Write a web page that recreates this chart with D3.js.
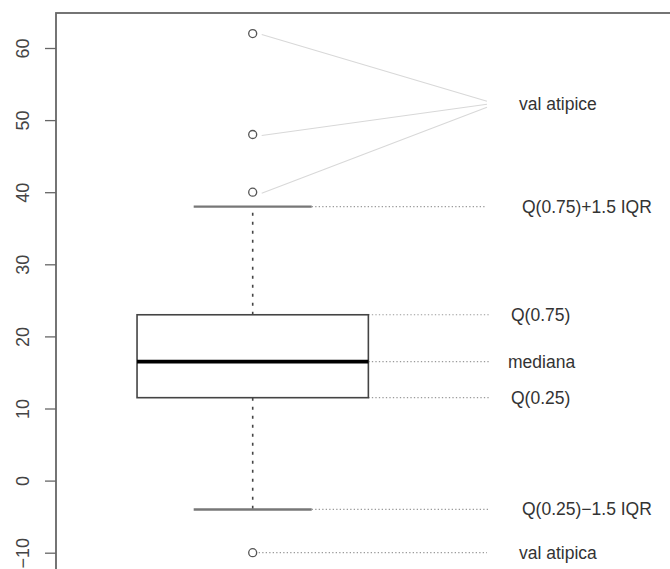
<!DOCTYPE html>
<html>
<head>
<meta charset="utf-8">
<script src="https://cdn.jsdelivr.net/npm/d3@7"></script>
<style>
  html, body { margin: 0; padding: 0; background: #fff; }
  svg { display: block; }
  text { font-family: "Liberation Sans", Arial, sans-serif; }
</style>
</head>
<body>
<svg id="chart" width="670" height="569"></svg>
<script>
// ---- data ----
const yTicks = [-10, 0, 10, 20, 30, 40, 50, 60];
const boxStats = { lowWhisker: -4, q1: 11.5, median: 16.5, q3: 23, highWhisker: 38 };
const outliersHigh = [62, 48, 40];
const outliersLow = [-10];
const annotLabels = ["val atipice", "Q(0.75)+1.5 IQR", "Q(0.75)", "mediana", "Q(0.25)", "Q(0.25)\u22121.5 IQR", "val atipica"];
const annotValues = [52.2, 38, 23, 16.5, 11.5, -4, -10];
const groupPos = 1;

// ---- layout ----
const svg = d3.select("#chart");
const W = 670, H = 569;
const plotLeft = 56, plotTop = 13;

const y = d3.scaleLinear().domain([-10, 60]).range([552.7, 48]);
const x = d3.scaleLinear().domain([0.5, 1]).range([plotLeft, 252.7]);

const boxHalf = 0.294, capHalf = 0.15;
const cx = x(groupPos);

// frame (extends beyond visible area right/bottom)
svg.append("rect")
  .attr("x", plotLeft).attr("y", plotTop)
  .attr("width", 800).attr("height", 800)
  .attr("fill", "none").attr("stroke", "#666").attr("stroke-width", 1.8);

// y axis
const axis = d3.axisLeft(y).tickValues(yTicks).tickSize(11).tickFormat(d => d < 0 ? "\u2212" + Math.abs(d) : d);
const gA = svg.append("g").attr("transform", `translate(${plotLeft},0)`).call(axis);
gA.select(".domain").remove();
gA.selectAll(".tick line").attr("stroke", "#666").attr("stroke-width", 1.3);
gA.selectAll(".tick text")
  .attr("transform", "rotate(-90)")
  .attr("x", 0).attr("y", -33).attr("dy", null)
  .attr("text-anchor", "middle")
  .attr("dominant-baseline", "central")
  .attr("fill", "#444")
  .style("font-size", "18px");

// connector lines for upper outliers
const convX = 487;
const convY = [y(annotValues[0]) - 3, y(annotValues[0]), y(annotValues[0]) + 3];
svg.append("g").selectAll("line").data(outliersHigh).join("line")
  .attr("x1", cx + 9).attr("y1", d => y(d) + 1)
  .attr("x2", convX).attr("y2", (d, i) => convY[i])
  .attr("stroke", "#d8d8d8").attr("stroke-width", 1.1);

// dotted annotation lines
const dotted = [
  { v: boxStats.highWhisker, x1: x(groupPos + capHalf), x2: 485 },
  { v: boxStats.q3, x1: x(groupPos + boxHalf), x2: 490 },
  { v: boxStats.median, x1: x(groupPos + boxHalf), x2: 490 },
  { v: boxStats.q1, x1: x(groupPos + boxHalf), x2: 490 },
  { v: boxStats.lowWhisker, x1: x(groupPos + capHalf), x2: 488 },
  { v: outliersLow[0], x1: cx + 6, x2: 487 }
];
svg.append("g").selectAll("line").data(dotted).join("line")
  .attr("x1", d => d.x1).attr("x2", d => d.x2)
  .attr("y1", d => y(d.v)).attr("y2", d => y(d.v))
  .attr("stroke", "#9a9a9a").attr("stroke-width", 1.2)
  .attr("stroke-dasharray", "1.3,2.2");

// whiskers (dashed)
svg.append("line")
  .attr("x1", cx).attr("x2", cx)
  .attr("y1", y(boxStats.q3)).attr("y2", y(boxStats.highWhisker))
  .attr("stroke", "#444").attr("stroke-width", 1.6).attr("stroke-dasharray", "3,6");
svg.append("line")
  .attr("x1", cx).attr("x2", cx)
  .attr("y1", y(boxStats.q1)).attr("y2", y(boxStats.lowWhisker))
  .attr("stroke", "#444").attr("stroke-width", 1.6).attr("stroke-dasharray", "3,6");

// caps
[boxStats.highWhisker, boxStats.lowWhisker].forEach(v => {
  svg.append("line")
    .attr("x1", x(groupPos - capHalf)).attr("x2", x(groupPos + capHalf))
    .attr("y1", y(v)).attr("y2", y(v))
    .attr("stroke", "#777").attr("stroke-width", 2.4);
});

// box
svg.append("rect")
  .attr("x", x(groupPos - boxHalf)).attr("y", y(boxStats.q3))
  .attr("width", x(groupPos + boxHalf) - x(groupPos - boxHalf))
  .attr("height", y(boxStats.q1) - y(boxStats.q3))
  .attr("fill", "#fff").attr("stroke", "#444").attr("stroke-width", 1.6);

// median
svg.append("line")
  .attr("x1", x(groupPos - boxHalf)).attr("x2", x(groupPos + boxHalf))
  .attr("y1", y(boxStats.median)).attr("y2", y(boxStats.median))
  .attr("stroke", "#000").attr("stroke-width", 3.6);

// outliers
svg.append("g").selectAll("circle").data(outliersHigh.concat(outliersLow)).join("circle")
  .attr("cx", cx).attr("cy", d => y(d)).attr("r", 4)
  .attr("fill", "none").attr("stroke", "#555").attr("stroke-width", 1.3);

// annotation labels
const labelX = [519, 522, 511, 508, 511, 522, 519];
svg.append("g").selectAll("text").data(annotLabels).join("text")
  .attr("x", (d, i) => labelX[i])
  .attr("y", (d, i) => y(annotValues[i]))
  .attr("dominant-baseline", "central")
  .attr("fill", "#333")
  .style("font-size", "17.5px")
  .text(d => d);
</script>
</body>
</html>
